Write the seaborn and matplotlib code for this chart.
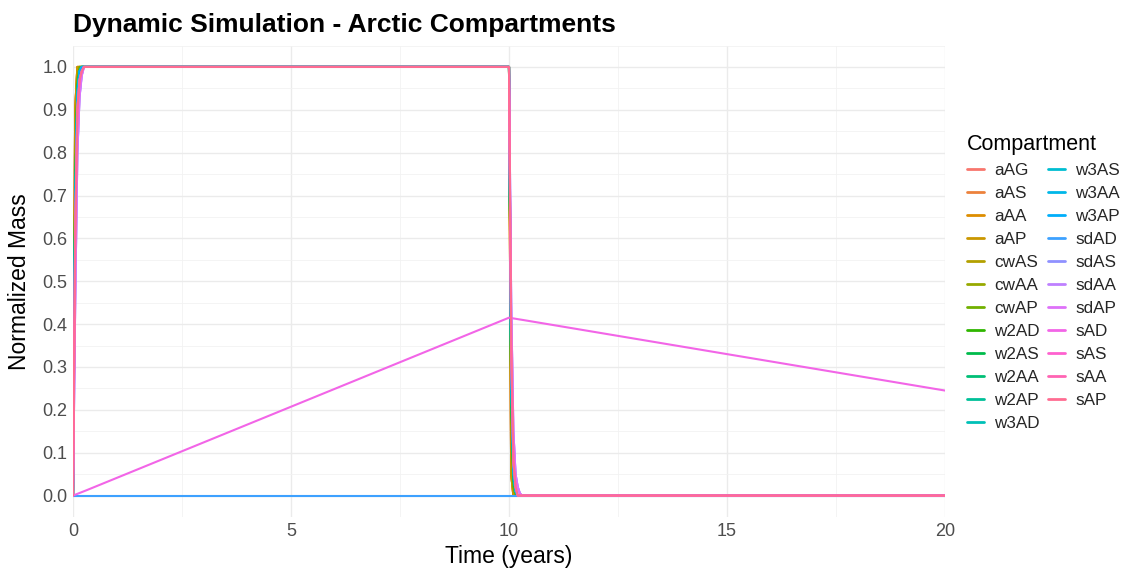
import numpy as np
import pandas as pd
import matplotlib
matplotlib.use("Agg")
import matplotlib.pyplot as plt
from matplotlib.lines import Line2D
from matplotlib.ticker import MultipleLocator
import seaborn as sns

# ---------------- data ----------------
compartments = ["aAG", "aAS", "aAA", "aAP", "cwAS", "cwAA", "cwAP", "w2AD", "w2AS",
                "w2AA", "w2AP", "w3AD", "w3AS", "w3AA", "w3AP", "sdAD", "sdAS",
                "sdAA", "sdAP", "sAD", "sAS", "sAA", "sAP"]

times = [0, 0.05, 0.1, 0.15, 0.2, 0.25, 0.3, 10.0, 10.05, 10.1, 10.15, 10.2, 10.25, 10.3, 15, 20]

air_vals = [0, 0.90, 1.00, 1.00, 1.00, 1, 1, 1, 0.05, 0.00, 0.00, 0.000, 0.000, 0, 0, 0]
cw_vals  = [0, 0.75, 0.97, 1.00, 1.00, 1, 1, 1, 0.20, 0.02, 0.00, 0.000, 0.000, 0, 0, 0]
w2_vals  = [0, 0.70, 0.95, 0.99, 1.00, 1, 1, 1, 0.25, 0.04, 0.01, 0.000, 0.000, 0, 0, 0]
w3_vals  = [0, 0.65, 0.93, 0.99, 1.00, 1, 1, 1, 0.30, 0.06, 0.01, 0.000, 0.000, 0, 0, 0]
sdAD_vals = [0, 0, 0, 0, 0, 0, 0, 0, 0, 0, 0, 0, 0, 0, 0, 0]
sd_vals  = [0, 0.45, 0.80, 0.93, 0.98, 1, 1, 1, 0.45, 0.15, 0.05, 0.020, 0.005, 0, 0, 0]
sAD_vals = [0, 0.002, 0.004, 0.006, 0.008, 0.010, 0.012, 0.415, 0.4142, 0.4133, 0.4125,
            0.4116, 0.4108, 0.410, 0.330, 0.245]
s_vals   = [0, 0.60, 0.90, 0.97, 0.99, 1, 1, 1, 0.35, 0.08, 0.02, 0.000, 0.000, 0, 0, 0]

series = {
    "aAG": air_vals, "aAS": air_vals, "aAA": air_vals, "aAP": air_vals,
    "cwAS": cw_vals, "cwAA": cw_vals, "cwAP": cw_vals,
    "w2AD": w2_vals, "w2AS": w2_vals, "w2AA": w2_vals, "w2AP": w2_vals,
    "w3AD": w3_vals, "w3AS": w3_vals, "w3AA": w3_vals, "w3AP": w3_vals,
    "sdAD": sdAD_vals, "sdAS": sd_vals, "sdAA": sd_vals, "sdAP": sd_vals,
    "sAD": sAD_vals, "sAS": s_vals, "sAA": s_vals, "sAP": s_vals,
}

x_ticks = [0, 5, 10, 15, 20]
y_ticks = [0.0, 0.1, 0.2, 0.3, 0.4, 0.5, 0.6, 0.7, 0.8, 0.9, 1.0]

rows = []
for c in compartments:
    for t, v in zip(times, series[c]):
        rows.append((c, t, v))
df = pd.DataFrame(rows, columns=["Compartment", "Time", "Mass"])


# ggplot2 default hue palette (hcl, c=100, l=65)
def hcl_to_hex(h, c=100.0, l=65.0):
    Xn, Yn, Zn = 95.047, 100.0, 108.883
    hr = np.deg2rad(h)
    u = c * np.cos(hr)
    v = c * np.sin(hr)
    Y = Yn * ((l + 16) / 116) ** 3 if l > 8 else Yn * l / 903.3
    un = 4 * Xn / (Xn + 15 * Yn + 3 * Zn)
    vn = 9 * Yn / (Xn + 15 * Yn + 3 * Zn)
    up = u / (13 * l) + un
    vp = v / (13 * l) + vn
    X = 9.0 * Y * up / (4 * vp)
    Z = -X / 3 - 5 * Y + 3 * Y / vp
    X, Y, Z = X / 100, Y / 100, Z / 100
    r = 3.240479 * X - 1.537150 * Y - 0.498535 * Z
    g = -0.969256 * X + 1.875992 * Y + 0.041556 * Z
    b = 0.055648 * X - 0.204043 * Y + 1.057311 * Z

    def gam(x):
        x = 12.92 * x if x <= 0.0031308 else 1.055 * x ** (1 / 2.4) - 0.055
        return min(max(x, 0), 1)
    return matplotlib.colors.to_hex((gam(r), gam(g), gam(b)))


n = len(compartments)
hues = np.linspace(15, 375, n + 1)[:n]
palette = [hcl_to_hex(h) for h in hues]

# ---------------- plot ----------------
sns.set_theme(style="white")
plt.rcParams["font.family"] = ["Liberation Sans", "DejaVu Sans"]

fig = plt.figure(figsize=(11.34, 5.71), dpi=100)
ax = fig.add_axes([73 / 1134, 1 - 517 / 571, (945 - 73) / 1134, (517 - 45.5) / 571])

sns.lineplot(data=df, x="Time", y="Mass", hue="Compartment", hue_order=compartments,
             palette=palette, estimator=None, sort=False, linewidth=1.5, legend=False, ax=ax)

ax.set_xlim(0, 20)
ax.set_ylim(-0.05, 1.05)
ax.set_xticks(x_ticks)
ax.set_yticks(y_ticks)
ax.set_yticklabels([f"{v:.1f}" for v in y_ticks])
ax.xaxis.set_minor_locator(MultipleLocator(2.5))
ax.yaxis.set_minor_locator(MultipleLocator(0.05))
ax.grid(which="major", color="#EBEBEB", linewidth=1.0)
ax.grid(which="minor", color="#F2F2F2", linewidth=0.6)
ax.set_axisbelow(True)
for sp in ax.spines.values():
    sp.set_visible(False)
ax.tick_params(which="both", length=0, labelsize=13, labelcolor="#4D4D4D", pad=4)

ax.set_xlabel("Time (years)", fontsize=16.5, color="black", labelpad=4)
ax.set_ylabel("Normalized Mass", fontsize=16.5, color="black", labelpad=8)
ax.set_title("Dynamic Simulation - Arctic Compartments", loc="left", fontsize=19,
             fontweight="bold", color="black", pad=10)

handles = [Line2D([], [], color=palette[i], linewidth=2.0) for i in range(n)]
leg = fig.legend(handles, compartments, title="Compartment", ncol=2,
                 loc="upper left", bbox_to_anchor=(953 / 1134, 1 - 120 / 571),
                 frameon=False, fontsize=12.3, title_fontsize=15.5,
                 handlelength=1.0, handletextpad=0.6, columnspacing=0.5,
                 labelspacing=0.47, alignment="left", borderpad=0.3)
leg.get_title().set_color("black")

fig.savefig("out.png", dpi=100)
